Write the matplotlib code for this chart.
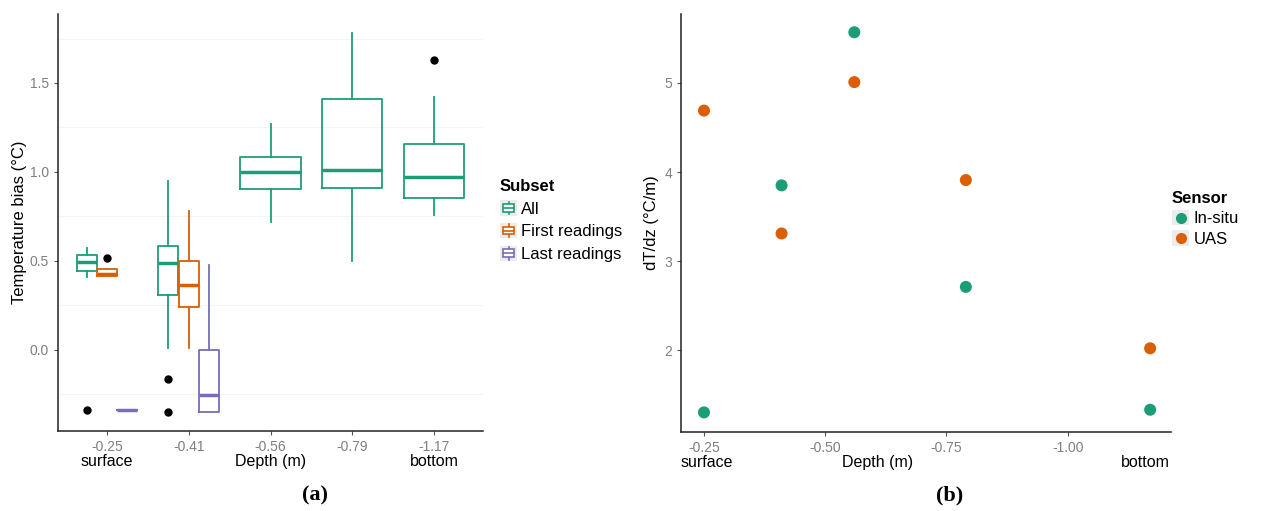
#%%
"""
Fig: temperature bias boxplots (a) and dT/dz by depth (b)
"""
import numpy as np
import matplotlib
matplotlib.use('Agg')
import matplotlib.pyplot as plt
from matplotlib.patches import Rectangle
from matplotlib.lines import Line2D
from matplotlib.legend_handler import HandlerBase
import matplotlib.transforms as mtransforms

#%% Data
depth_labels = ['-0.25', '-0.41', '-0.56', '-0.79', '-1.17']
subsets = ['All', 'First readings', 'Last readings']
subset_colors = ['#1B9E77', '#D95F02', '#7570B3']

# box stats per subset: (depth index, q1, median, q3, whislo, whishi, outliers)
all_stats = [
    (0, 0.44, 0.49, 0.532, 0.41, 0.569, [-0.338]),
    (1, 0.306, 0.489, 0.582, 0.007, 0.947, [-0.165, -0.351]),
    (2, 0.902, 0.998, 1.082, 0.716, 1.268, []),
    (3, 0.908, 1.009, 1.409, 0.496, 1.781, []),
    (4, 0.851, 0.970, 1.156, 0.755, 1.420, [1.629]),
]
first_stats = [
    (0, 0.415, 0.423, 0.451, 0.415, 0.451, [0.517]),
    (1, 0.241, 0.366, 0.496, 0.007, 0.778, []),
]
last_stats = [
    (0, -0.338, -0.338, -0.338, -0.338, -0.338, []),
    (1, -0.349, -0.256, -0.002, -0.349, 0.475, []),
]

# panel b
b_depth = [-0.25, -0.41, -0.56, -0.79, -1.17]
insitu_dtdz = [1.30, 3.85, 5.57, 2.71, 1.33]
uas_dtdz = [4.69, 3.31, 5.01, 3.91, 2.02]
sensors = ['In-situ', 'UAS']
sensor_colors = ['#1B9E77', '#D95F02']

#%% Figure settings
plt.rcParams['font.family'] = ['Liberation Sans', 'DejaVu Sans']
grey_tick = '#7f7f7f'
fig = plt.figure(figsize=(12.67, 5.11), dpi=100)
fig.patch.set_facecolor('white')

ax = fig.add_axes([58/1267, 80/511, 425/1267, 417/511])
axb = fig.add_axes([681/1267, 79/511, 490/1267, 418/511])


def style_ax(a):
    for s in ['top', 'right']:
        a.spines[s].set_visible(False)
    for s in ['left', 'bottom']:
        a.spines[s].set_linewidth(1.1)
        a.spines[s].set_color('#222222')
    a.tick_params(colors='#555555', labelcolor=grey_tick, labelsize=10, length=3, width=0.8)


class BoxHandler(HandlerBase):
    def create_artists(self, legend, orig_handle, xd, yd, width, height, fontsize, trans):
        col = orig_handle.get_color()
        x0, y0 = -xd, -yd
        bg = Rectangle((x0, y0), width, height, facecolor='#ececec',
                       edgecolor='none', transform=trans)
        bx = Rectangle((x0 + 2, y0 + height * 0.25), width - 4, height * 0.5,
                       facecolor='white', edgecolor=col, linewidth=1.2, transform=trans)
        med = Line2D([x0 + 2, x0 + width - 2], [y0 + height / 2] * 2, color=col,
                     linewidth=1.2, transform=trans)
        wh = Line2D([x0 + width / 2] * 2, [y0 + 1, y0 + height - 1], color=col,
                    linewidth=1.2, transform=trans)
        return [bg, wh, bx, med]


class DotHandler(HandlerBase):
    def create_artists(self, legend, orig_handle, xd, yd, width, height, fontsize, trans):
        col = orig_handle.get_color()
        x0, y0 = -xd, -yd
        bg = Rectangle((x0, y0), width, height, facecolor='#ececec',
                       edgecolor='none', transform=trans)
        dot = Line2D([x0 + width / 2], [y0 + height / 2], marker='o', markersize=8,
                     color=col, markeredgecolor='none', linestyle='none', transform=trans)
        return [bg, dot]


"""
Ax settings - boxplots
"""
style_ax(ax)
n_sub = len(subsets)
dodge = 0.75 / n_sub
for k, (stats, col) in enumerate(zip([all_stats, first_stats, last_stats], subset_colors)):
    for (i, q1, med, q3, lo, hi, fl) in stats:
        pos = i + 1
        width = 0.75
        if i < 2:
            pos = i + 1 - 0.75 / 2 + dodge * (k + 0.5)
            width = dodge
        st = dict(q1=q1, med=med, q3=q3, whislo=lo, whishi=hi, fliers=fl)
        ax.bxp([st], positions=[pos], widths=[width * 0.98], showcaps=False,
               boxprops=dict(color=col, linewidth=1.3),
               whiskerprops=dict(color=col, linewidth=1.3),
               medianprops=dict(color=col, linewidth=2.5, solid_capstyle='butt'),
               flierprops=dict(marker='o', markerfacecolor='black', markeredgecolor='black',
                               markersize=5),
               manage_ticks=False)

ax.set_xlim(0.4, 5.6)
ax.set_ylim(-0.458, 1.888)
ax.set_xticks(range(1, 6))
ax.set_xticklabels(depth_labels)
ax.set_yticks([0.0, 0.5, 1.0, 1.5])
ax.set_yticklabels(['0.0', '0.5', '1.0', '1.5'])
for yv in [-0.25, 0.25, 0.75, 1.25, 1.75]:
    ax.axhline(yv, color='#f4f4f4', linewidth=0.8, zorder=0)
ax.set_ylabel('Temperature bias (°C)', fontsize=12, labelpad=2)
tr = mtransforms.blended_transform_factory(ax.transData, ax.transAxes)
ax.text(1, -0.055, 'surface', transform=tr, ha='center', va='top', fontsize=11.5)
ax.text(3, -0.055, 'Depth (m)', transform=tr, ha='center', va='top', fontsize=11.5)
ax.text(5, -0.055, 'bottom', transform=tr, ha='center', va='top', fontsize=11.5)

handles = [Line2D([], [], color=c) for c in subset_colors]
leg = ax.legend(handles, subsets, handler_map={Line2D: BoxHandler()}, title='Subset',
                loc='center left', bbox_to_anchor=(1.012, 0.505), frameon=False,
                fontsize=12, handlelength=1.05, handleheight=1.05, handletextpad=0.25,
                labelspacing=0.38, alignment='left', borderaxespad=0.3)
leg.get_title().set_fontweight('bold')
leg.get_title().set_fontsize(12)

"""
Ax settings - dT/dz
"""
style_ax(axb)
axb.scatter(b_depth, insitu_dtdz, s=75, color=sensor_colors[0], label=sensors[0],
            edgecolors='none', zorder=3)
axb.scatter(b_depth, uas_dtdz, s=75, color=sensor_colors[1], label=sensors[1],
            edgecolors='none', zorder=3)
axb.set_xlim(-0.2026, -1.213)
axb.set_ylim(1.08, 5.775)
axb.set_xticks([-0.25, -0.5, -0.75, -1.0])
axb.set_xticklabels(['-0.25', '-0.50', '-0.75', '-1.00'])
axb.set_yticks([2, 3, 4, 5])
axb.set_ylabel('dT/dz (°C/m)', fontsize=12, labelpad=4)
trb = mtransforms.blended_transform_factory(axb.transData, axb.transAxes)
axb.text(-0.255, -0.055, 'surface', transform=trb, ha='center', va='top', fontsize=11.5)
axb.text(0.402, -0.055, 'Depth (m)', transform=axb.transAxes, ha='center', va='top', fontsize=11.5)
axb.text(-1.16, -0.055, 'bottom', transform=trb, ha='center', va='top', fontsize=11.5)

hb = [Line2D([], [], color=c) for c in sensor_colors]
legb = axb.legend(hb, sensors, handler_map={Line2D: DotHandler()}, title='Sensor',
                  loc='center left', bbox_to_anchor=(0.978, 0.51), frameon=False,
                  fontsize=12, handlelength=1.05, handleheight=1.05, handletextpad=0.25,
                  labelspacing=0.25, alignment='left', borderaxespad=0.3)
legb.get_title().set_fontweight('bold')
legb.get_title().set_fontsize(12)

# panel labels
fig.text(315/1267, 1 - 495/511, '(a)', ha='center', va='center', fontsize=16,
         fontweight='bold', family='Liberation Serif')
fig.text(950/1267, 1 - 495/511, '(b)', ha='center', va='center', fontsize=16,
         fontweight='bold', family='Liberation Serif')

fig.savefig('out.png', dpi=100)
